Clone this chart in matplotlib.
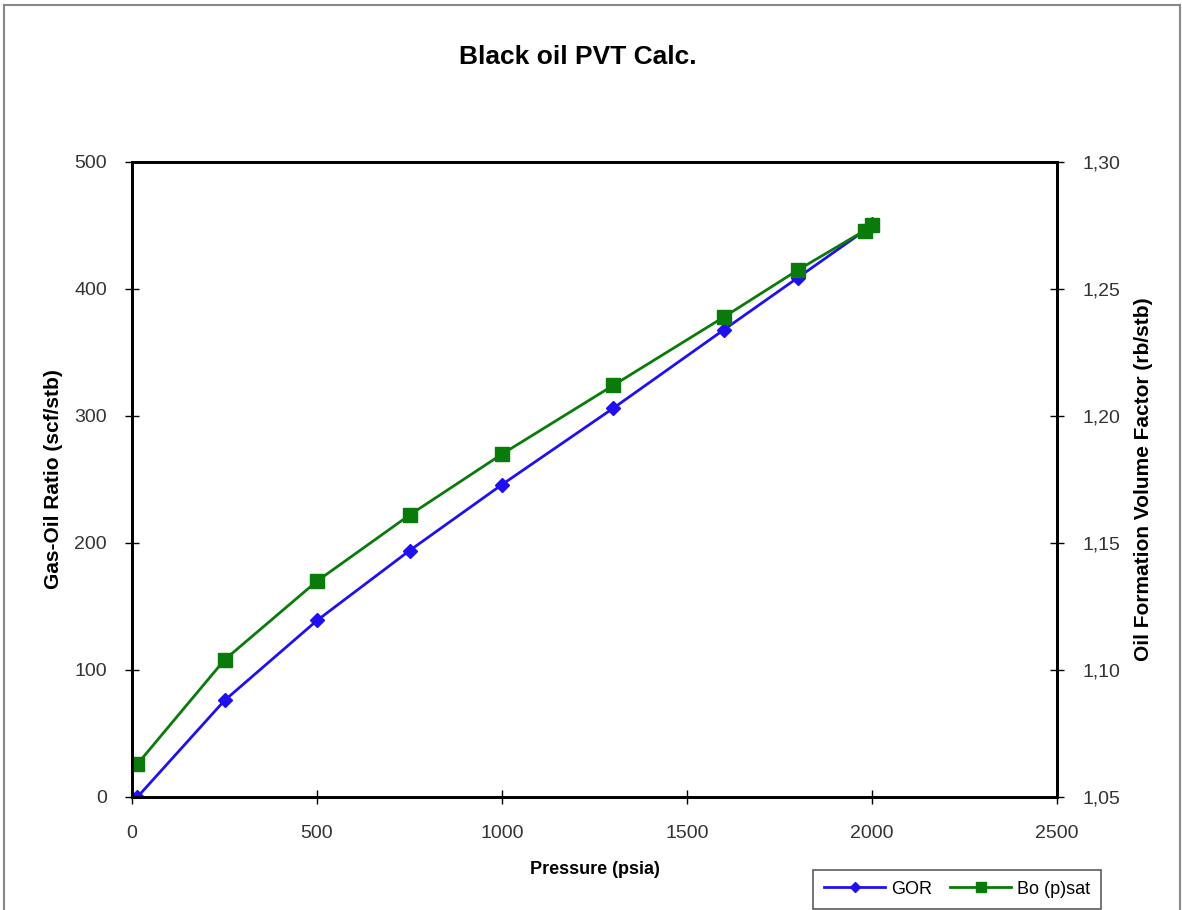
import matplotlib.pyplot as plt
from matplotlib.patches import Rectangle
from matplotlib.ticker import FuncFormatter

plt.rcParams["font.family"] = ["Liberation Sans", "DejaVu Sans"]

# values
pressure = [14.7, 250, 500, 750, 1000, 1300, 1600, 1800, 1980, 2000]
gor = [0, 76, 139, 194, 246, 306, 368, 409, 446, 451]
bo = [1.063, 1.104, 1.135, 1.161, 1.185, 1.212, 1.239, 1.2575, 1.273, 1.275]

x_ticks = [0, 500, 1000, 1500, 2000, 2500]
gor_ticks = [0, 100, 200, 300, 400, 500]
bo_ticks = [1.05, 1.10, 1.15, 1.20, 1.25, 1.30]

fig = plt.figure(figsize=(11.82, 9.10), dpi=100)
ax = fig.add_axes([0.1117, 0.1242, 0.7826, 0.6978])
ax2 = ax.twinx()

l1, = ax.plot(pressure, gor, color="#2010f0", lw=2, marker="D", ms=7,
              label="GOR", zorder=3)
l2, = ax2.plot(pressure, bo, color="#0a7a0a", lw=2, marker="s", ms=9.5,
               label="Bo (p)sat", zorder=2)

ax.set_xlim(0, 2500)
ax.set_ylim(0, 500)
ax2.set_ylim(1.05, 1.30)
ax.set_xticks(x_ticks)
ax.set_yticks(gor_ticks)
ax2.set_yticks(bo_ticks)
ax2.yaxis.set_major_formatter(FuncFormatter(lambda v, p: f"{v:.2f}".replace(".", ",")))

for a in (ax, ax2):
    for s in a.spines.values():
        s.set_linewidth(2)
    a.tick_params(direction="inout", length=10, width=1, labelsize=14,
                  labelcolor="#333333", pad=13)
ax.tick_params(axis="x", pad=15)

ax.set_xlabel("Pressure (psia)", fontsize=13, fontweight="bold", labelpad=14)
ax.set_ylabel("Gas-Oil Ratio (scf/stb)", fontsize=15, fontweight="bold", labelpad=8)
ax2.set_ylabel("Oil Formation Volume Factor (rb/stb)", fontsize=15,
               fontweight="bold", labelpad=10)
fig.text(0.489, 0.937, "Black oil PVT Calc.", ha="center", va="center",
         fontsize=19, fontweight="bold")

leg = fig.legend(handles=[l1, l2], loc="upper left", ncol=2,
                 bbox_to_anchor=(0.688, 0.044), borderaxespad=0, fontsize=13,
                 frameon=True, fancybox=False, handlelength=3.4,
                 columnspacing=1.0, handletextpad=0.3, borderpad=0.6,
                 markerscale=0.8)
leg.get_frame().set_edgecolor("#333333")
leg.get_frame().set_linewidth(1.2)

fig.patches.append(Rectangle((0.003, -0.05), 0.995, 1.044, transform=fig.transFigure,
                             fill=False, edgecolor="#888888", lw=1.5))

fig.savefig("out.png", dpi=100)
